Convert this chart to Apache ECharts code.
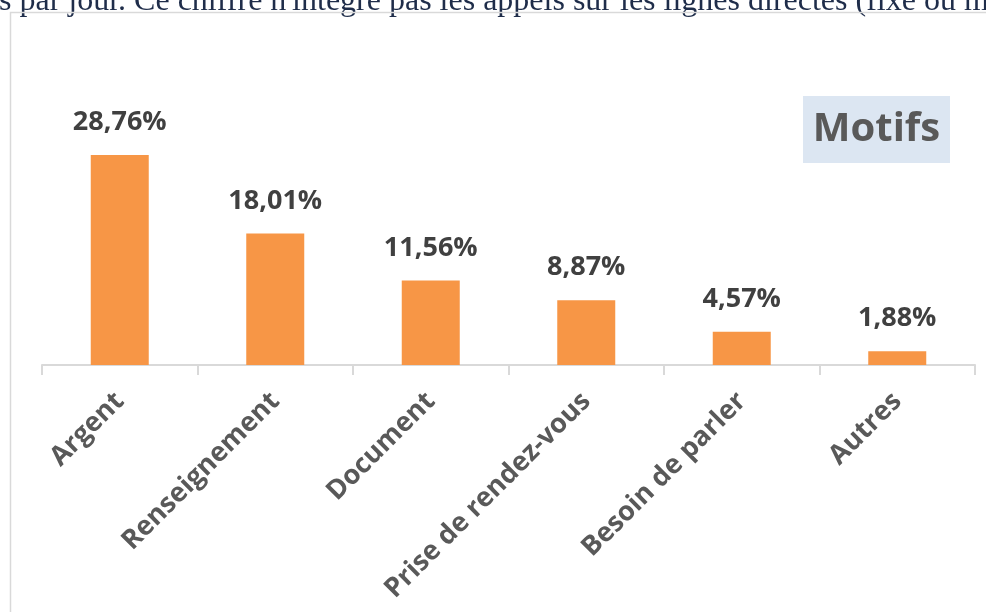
<!DOCTYPE html>
<html lang="fr">
<head>
    <meta charset="UTF-8">
    <title>Motifs</title>
    <script src="https://cdn.jsdelivr.net/npm/echarts@6/dist/echarts.min.js"></script>
    <style>
        html, body { margin: 0; padding: 0; background: #fff; }
    </style>
</head>
<body>
    <div id="main" style="width:986px;height:612px;"></div>
<script type="text/javascript">
    // données
    var motifs = ['Argent', 'Renseignement', 'Document', 'Prise de rendez-vous', 'Besoin de parler', 'Autres'];
    var pourcentages = [28.76, 18.01, 11.56, 8.87, 4.57, 1.88];
    var titre = 'Motifs';
    var texteHaut = "s par jour. Ce chiffre n'intègre pas les appels sur les lignes directes (fixe ou m";

    var myChart = echarts.init(document.getElementById('main'));

    var option = {
        animation: false,
        backgroundColor: '#fff',
        graphic: [
            { // texte du document au-dessus
                type: 'text',
                left: -1,
                top: -14,
                style: {
                    text: texteHaut,
                    fontFamily: 'Liberation Serif',
                    fontSize: 32,
                    fill: '#1f2d4a'
                }
            },
            { // cadre du graphique
                type: 'rect',
                shape: { x: 10.5, y: 12.5, width: 1000, height: 700 },
                style: { fill: 'none', stroke: '#d9d9d9', lineWidth: 1.5 },
                silent: true
            },
            {
                type: 'group',
                left: 803,
                top: 96,
                children: [
                    {
                        type: 'rect',
                        shape: { x: 0, y: 0, width: 147, height: 67 },
                        style: { fill: '#dce6f2' }
                    },
                    {
                        type: 'text',
                        x: 73.5,
                        y: 34,
                        style: {
                            text: titre,
                            fontFamily: 'Open Sans',
                            fontWeight: 'bold',
                            fontSize: 40,
                            fill: '#595959',
                            align: 'center',
                            verticalAlign: 'middle'
                        }
                    }
                ]
            }
        ],
        grid: {
            left: 42,
            right: 11,
            top: 146,
            bottom: 247
        },
        xAxis: {
            type: 'category',
            data: motifs,
            axisLine: { lineStyle: { color: '#d9d9d9', width: 2 } },
            axisTick: { show: true, length: 10, lineStyle: { color: '#d9d9d9', width: 2 } },
            axisLabel: {
                interval: 0,
                rotate: 45,
                margin: 32,
                color: '#595959',
                fontFamily: 'Open Sans',
                fontWeight: 'bold',
                fontSize: 27
            }
        },
        yAxis: {
            type: 'value',
            min: 0,
            max: 30,
            show: false,
            splitLine: { show: false }
        },
        series: [
            {
                type: 'bar',
                data: pourcentages,
                barWidth: 58,
                itemStyle: { color: '#f79646' },
                label: {
                    show: true,
                    position: 'top',
                    distance: 19,
                    color: '#404040',
                    fontFamily: 'Open Sans',
                    fontWeight: 'bold',
                    fontSize: 27,
                    formatter: function (p) {
                        return p.value.toFixed(2).replace('.', ',') + '%';
                    }
                }
            }
        ]
    };

    myChart.setOption(option);
</script>
</body>
</html>
